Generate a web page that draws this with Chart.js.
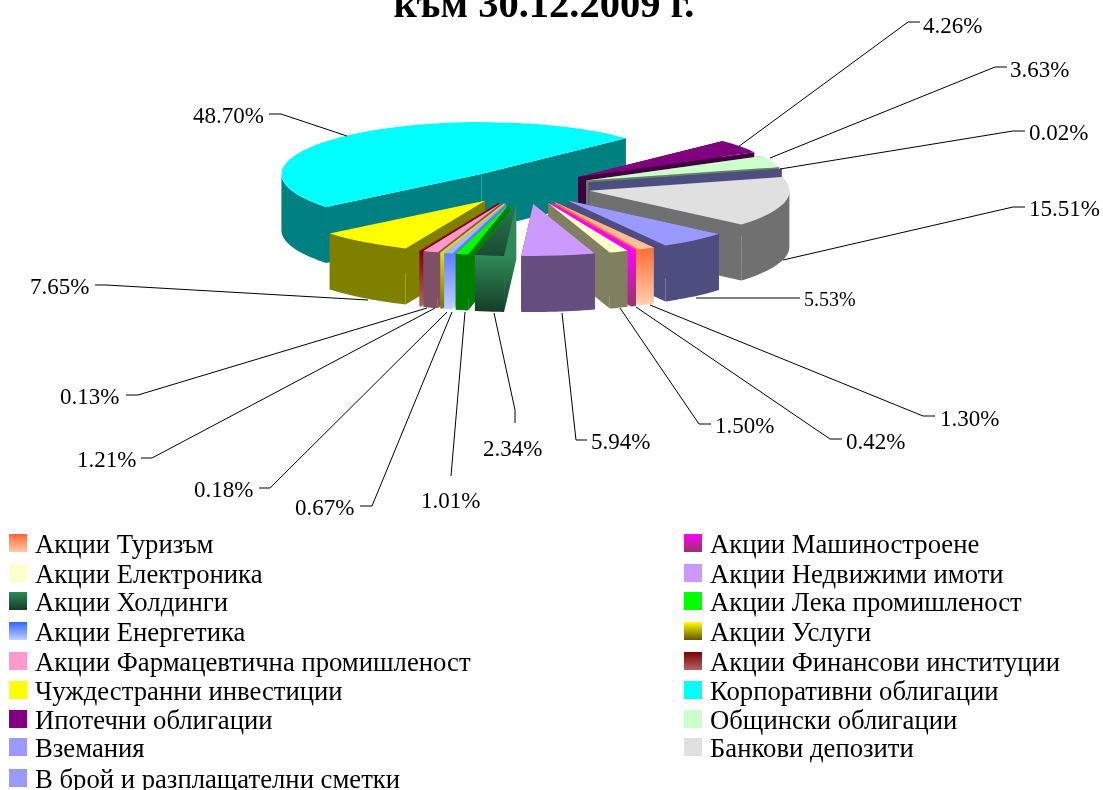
<!DOCTYPE html>
<html><head><meta charset="utf-8">
<style>html,body{margin:0;padding:0;background:#fff;overflow:hidden}canvas{display:block}</style>
<script src="https://cdn.jsdelivr.net/npm/chart.js@4"></script>
</head><body><canvas id="c" width="1103" height="790"></canvas>
<script>
// ---- data, in the pie's clockwise order ----
const sliceLabels = ["Акции Туризъм","Акции Машиностроене","Акции Електроника","Акции Недвижими имоти","Акции Холдинги","Акции Лека промишленост","Акции Енергетика","Акции Услуги","Акции Фармацевтична промишленост","Акции Финансови институции","Чуждестранни инвестиции","Корпоративни облигации","Ипотечни облигации","Общински облигации","В брой и разплащателни сметки","Банкови депозити","Вземания"];
const sliceValues = [1.30,0.42,1.50,5.94,2.34,1.01,0.67,0.18,1.21,0.13,7.65,48.70,4.26,3.63,0.02,15.51,5.53];
const titleText = "към 30.12.2009 г.";
const legendOrder = [0,1,2,3,4,5,6,7,8,9,10,11,12,13,16,15,14];

// ---- styles ----
const topFrom = ["#ff9c70","#ff00ff","#ffffcc","#cc99ff","#2e8b57","#00ff00","#a4b6ff","#e0d000","#ff99cc","#a03838","#ffff00","#00ffff","#800080","#ccffcc","#9999ff","#e0e0e0","#9999ff"];
const topTo   = ["#ffc8a8",null,null,null,"#1a4a34",null,null,null,null,null,null,null,null,null,null,null,null];
const wallFrom = ["#ff7038","#ff00ff","#808060","#664d7f","#2e8b57","#008000","#5c80ff","#e6e000","#805068","#800000","#808000","#008080","#400040","#668066","#4d4d7f","#707070","#4d4d7f"];
const wallTo   = ["#ffd0b0","#99336a",null,null,"#143c28",null,"#c0d0ff","#807000",null,"#b06868",null,null,null,null,null,null,null];
const legendFrom = ["#ff6633","#ff00ff","#ffffcc","#cc99ff","#2e8b57","#00ff00","#3366ff","#ffff00","#ff99cc","#800000","#ffff00","#00ffff","#800080","#ccffcc","#9999ff","#e0e0e0","#9999ff"];
const legendTo   = ["#ffccaa","#993366",null,null,"#143c28",null,"#c0d0ff","#665500",null,"#b46464",null,null,null,null,null,null,null];

// ---- layout ----
const W = 1103, H = 790;
const pieX = 525, pieY = 187, radius = 200, squash = 0.26, explode = 66, depth = 56, rotationDeg = 150.5;
const leaderRoutes = [
 [[650,305],[923,416],[935,416]], [[636,307],[830,439],[842,439]], [[620,308],[699,424],[711,424]],
 [[562,313],[576,440],[587,440]], [[494,313],[515,410],[515,423]], [[465,312],[451,476]],
 [[452,312],[372,506],[360,506]], [[447,312],[270,488],[259,488]], [[435,308],[152,458],[141,458]],
 [[427,308],[138,395],[126,395]], [[368,300],[106,285],[95,285]], [[347,136],[281,114],[269,114]],
 [[738,147],[908,22],[920,22]], [[770,158],[995,67],[1007,67]], [[780,169],[1013,131],[1025,131]],
 [[783,260],[1013,207],[1025,207]], [[696,298],[800,298]]
];
const labelAnchors = [[940,426],[846,449],[715,433],[591,449],[483,456],[421,508],[295,515],[194,497],[77,467],[60,404],[30,294],[193,123],[923,33],[1010,77],[1029,140],[1029,216],[804,306]];
const labelSizes = [23,23,23,23,23,23,23,23,23,23,23,23,23,23,23,23,20];
const legendRowTops = [534,564,592,622,652,681,710,738,769];
const legendCols = [[9,35],[684,710]];
const serif = '"Liberation Serif","Times New Roman",serif';

function vGrad(ctx, y0, y1, from, to){
  if(!to) return from;
  const g = ctx.createLinearGradient(0,y0,0,y1);
  g.addColorStop(0,from); g.addColorStop(1,to);
  return g;
}
function sy(chart, y){ const a = chart.chartArea; return pieY + (y-(a.top+a.bottom)/2)*squash; }

const pie3d = {
  id:'pie3d',
  afterDatasetUpdate(chart){
    chart.getDatasetMeta(0).data.forEach(el=>{
      const m=(el.startAngle+el.endAngle)/2;
      el.x+=Math.cos(m)*explode; el.y+=Math.sin(m)*explode;
    });
  },
  beforeDatasetsDraw(chart){
    const ctx=chart.ctx, els=chart.getDatasetMeta(0).data;
    const order=els.map((e,i)=>i).sort((a,b)=>Math.sin((els[a].startAngle+els[a].endAngle)/2)-Math.sin((els[b].startAngle+els[b].endAngle)/2));
    ctx.save();
    order.forEach(i=>{
      const el=els[i], r=el.outerRadius, pt=a=>[el.x+Math.cos(a)*r, sy(chart,el.y+Math.sin(a)*r)];
      const apex=[el.x, sy(chart,el.y)];
      const n=Math.max(2,Math.ceil((el.endAngle-el.startAngle)/0.03)), upper=[];
      let maxS=-1;
      for(let k=0;k<=n;k++){
        const a=el.startAngle+(el.endAngle-el.startAngle)*k/n;
        if(Math.sin(a)>=-0.001){upper.push(pt(a));maxS=Math.max(maxS,Math.sin(a));}
      }
      const yTop=apex[1]+Math.max(maxS,0)*r*squash;
      ctx.fillStyle=vGrad(ctx,yTop,yTop+depth,wallFrom[i],wallTo[i]);
      [el.startAngle,el.endAngle].forEach(a=>{
        const p=pt(a);
        ctx.beginPath();ctx.moveTo(apex[0],apex[1]);ctx.lineTo(p[0],p[1]);ctx.lineTo(p[0],p[1]+depth);ctx.lineTo(apex[0],apex[1]+depth);ctx.closePath();ctx.fill();
      });
      if(upper.length>1){
        ctx.beginPath();
        upper.forEach((p,k)=>k?ctx.lineTo(p[0],p[1]):ctx.moveTo(p[0],p[1]));
        upper.slice().reverse().forEach(p=>ctx.lineTo(p[0],p[1]+depth));
        ctx.closePath();ctx.fill();
      }
    });
    ctx.restore();
    const a=chart.chartArea;
    ctx.save();
    ctx.translate(0,pieY); ctx.scale(1,squash); ctx.translate(0,-(a.top+a.bottom)/2);
  },
  afterDatasetsDraw(chart){ chart.ctx.restore(); },
  afterDraw(chart){
    const ctx=chart.ctx;
    ctx.save();
    ctx.fillStyle='#000';ctx.textAlign='center';ctx.textBaseline='alphabetic';
    ctx.font='bold 40.5px '+serif;
    ctx.fillText(titleText,544,17);
    ctx.textAlign='left';
    ctx.strokeStyle='#000';ctx.lineWidth=1;
    leaderRoutes.forEach(route=>{
      ctx.beginPath();route.forEach((p,k)=>k?ctx.lineTo(p[0],p[1]):ctx.moveTo(p[0],p[1]));ctx.stroke();
    });
    sliceValues.forEach((v,i)=>{
      ctx.font=labelSizes[i]+'px '+serif;
      ctx.fillText(v.toFixed(2)+'%',labelAnchors[i][0],labelAnchors[i][1]);
    });
    ctx.font='26.7px '+serif;
    legendOrder.forEach((idx,n)=>{
      const col=legendCols[n%2], top=legendRowTops[Math.floor(n/2)];
      ctx.fillStyle=vGrad(ctx,top,top+18,legendFrom[idx],legendTo[idx]);
      ctx.fillRect(col[0],top,18,18);
      ctx.fillStyle='#000';
      ctx.fillText(sliceLabels[idx],col[1],top+19);
    });
    ctx.restore();
  }
};

new Chart(document.getElementById('c'),{
  type:'pie',
  data:{labels:sliceLabels,datasets:[{
    data:sliceValues,
    clip:false,
    borderWidth:0,
    backgroundColor(c){
      const a=c.chart.chartArea, i=c.dataIndex;
      if(!a) return topFrom[i];
      const mid=(a.top+a.bottom)/2;
      return vGrad(c.chart.ctx,mid,a.bottom+explode,topFrom[i],topTo[i]);
    }
  }]},
  plugins:[pie3d],
  options:{
    responsive:false,animation:false,events:[],
    rotation:rotationDeg,
    layout:{padding:{left:pieX-radius,right:W-pieX-radius,top:(H-2*radius)/2,bottom:(H-2*radius)/2}},
    plugins:{legend:{display:false},title:{display:false},tooltip:{enabled:false}}
  }
});
</script></body></html>
